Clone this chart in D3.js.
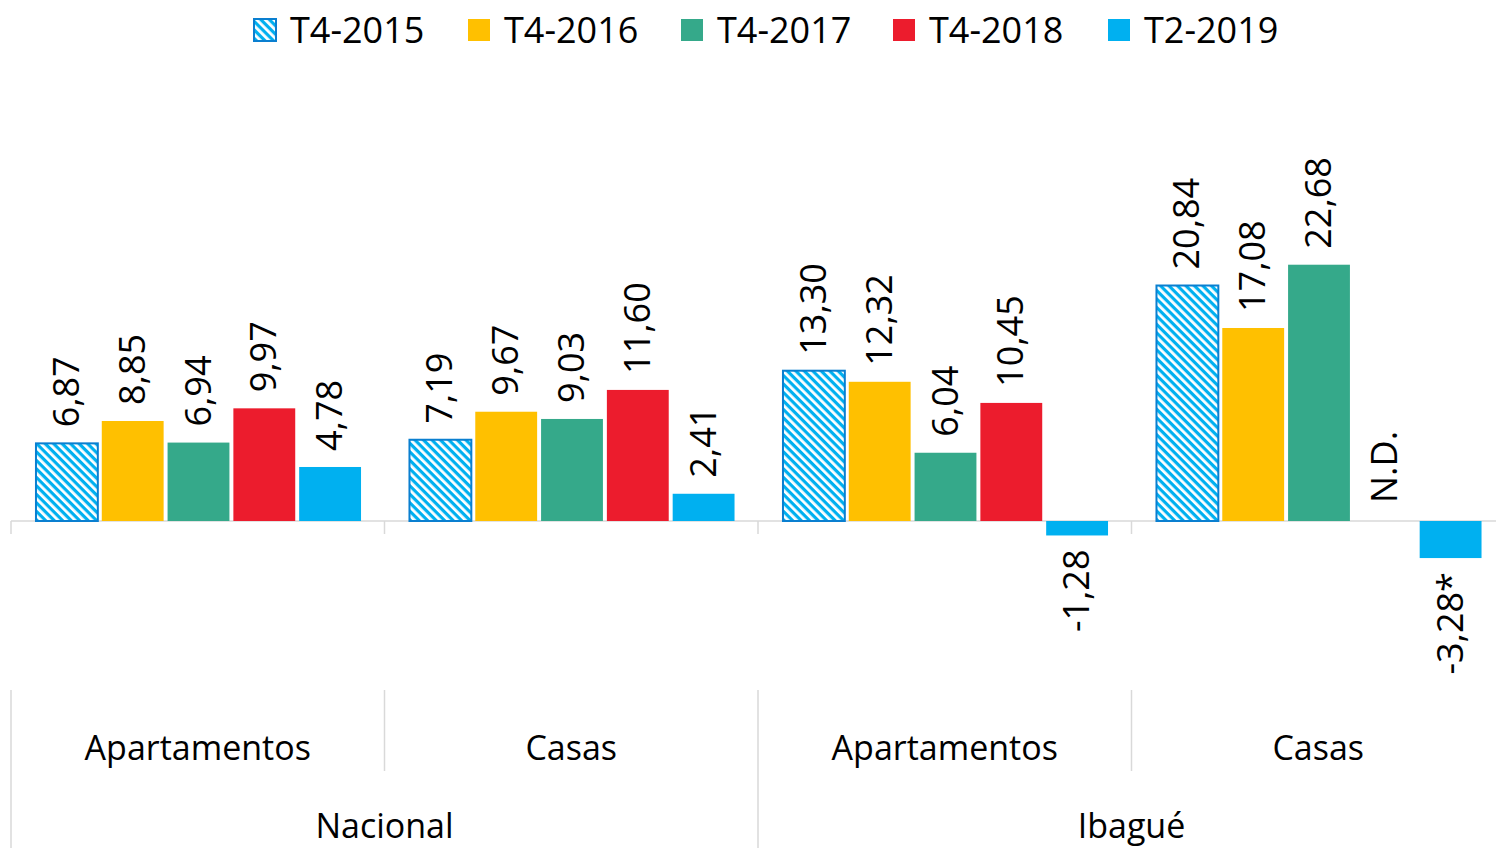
<!DOCTYPE html>
<html><head><meta charset="utf-8">
<script src="https://cdn.jsdelivr.net/npm/d3@7"></script>
<style>
html,body{margin:0;padding:0;background:#fff;}
svg{display:block;font-family:"Open Sans",sans-serif;}
</style></head>
<body>
<svg id="chart" width="1496" height="848"></svg>
<script>
const groups = ["Nacional","Ibagué"];
const subcats = ["Apartamentos","Casas"];
const series = ["T4-2015","T4-2016","T4-2017","T4-2018","T2-2019"];
const colors = ["url(#hatch)","#ffc000","#35a98a","#ec1c2d","#00b0f0"];
const valsNacApto = [6.87, 8.85, 6.94, 9.97, 4.78];
const valsNacCasa = [7.19, 9.67, 9.03, 11.60, 2.41];
const valsIbaApto = [13.30, 12.32, 6.04, 10.45, -1.28];
const valsIbaCasa = [20.84, 17.08, 22.68, null, -3.28];
const labelsIbaCasa = ["20,84","17,08","22,68","N.D.","-3,28*"];

const fmt = v => v.toFixed(2).replace(".", ",");
const cells = [
  {g:groups[0], s:subcats[0], vals:valsNacApto, labels:valsNacApto.map(fmt)},
  {g:groups[0], s:subcats[1], vals:valsNacCasa, labels:valsNacCasa.map(fmt)},
  {g:groups[1], s:subcats[0], vals:valsIbaApto, labels:valsIbaApto.map(fmt)},
  {g:groups[1], s:subcats[1], vals:valsIbaCasa, labels:labelsIbaCasa}
];
cells.forEach((c,i)=>c.key=c.g+"|"+c.s);

const svg = d3.select("#chart");
const defs = svg.append("defs");
const pat = defs.append("pattern").attr("id","hatch").attr("patternUnits","userSpaceOnUse")
  .attr("width",6).attr("height",6).attr("patternTransform","rotate(45)");
pat.append("rect").attr("width",6).attr("height",6).attr("fill","#ffffff");
pat.append("rect").attr("width",6).attr("height",3.2).attr("fill","#00b0f0");

const x0 = d3.scaleBand().domain(cells.map(c=>c.key)).range([11,1505]);
const x1 = d3.scaleBand().domain(series).range([23,352]).paddingInner(0.06).paddingOuter(0.03);
const y = d3.scaleLinear().domain([-5,25]).range([521+5*11.3, 521-25*11.3]);

// zero line
svg.append("line").attr("x1",11).attr("x2",1505).attr("y1",y(0)).attr("y2",y(0))
  .attr("stroke","#d9d9d9").attr("stroke-width",1.5);

// tick marks at zero line
x0.domain().forEach(k=>{
  svg.append("line").attr("x1",x0(k)).attr("x2",x0(k)).attr("y1",y(0)).attr("y2",y(0)+13)
    .attr("stroke","#d9d9d9").attr("stroke-width",1.5);
});

// bars
cells.forEach(c=>{
  const g = svg.append("g").attr("transform",`translate(${x0(c.key)},0)`);
  series.forEach((s,i)=>{
    const v = c.vals[i];
    if(v===null) return;
    const r = g.append("rect")
      .attr("x",x1(s)).attr("width",x1.bandwidth())
      .attr("y",y(Math.max(0,v))).attr("height",Math.abs(y(v)-y(0)))
      .attr("fill",colors[i]);
    if(i===0) r.attr("stroke","#0a7fd0").attr("stroke-width",2);
  });
  series.forEach((s,i)=>{
    const v = c.vals[i];
    const cx = x1(s)+x1.bandwidth()/2;
    let yy, anchor;
    if(v===null){ yy = y(0)-18; anchor="start"; }
    else if(v>=0){ yy = y(v)-16; anchor="start"; }
    else { yy = y(v)+14; anchor="end"; }
    g.append("text")
      .attr("transform",`translate(${cx+12},${yy}) rotate(-90)`)
      .attr("text-anchor",anchor)
      .attr("font-size",36).attr("fill","#000")
      .text(c.labels[i]);
  });
});

// category axis
const sepTop = 690;
x0.domain().forEach((k,i)=>{
  const xx = x0(k);
  const full = (i%2===0);
  svg.append("line").attr("x1",xx).attr("x2",xx).attr("y1",sepTop).attr("y2",full?848:771)
    .attr("stroke","#d9d9d9").attr("stroke-width",1.5);
});
cells.forEach(c=>{
  svg.append("text").attr("x",x0(c.key)+x0.bandwidth()/2).attr("y",760)
    .attr("text-anchor","middle").attr("font-size",34).attr("fill","#000").text(c.s);
});
groups.forEach((g,i)=>{
  const ks = cells.filter(c=>c.g===g).map(c=>c.key);
  const cx = (x0(ks[0]) + x0(ks[ks.length-1]) + x0.bandwidth())/2;
  svg.append("text").attr("x",cx).attr("y",838)
    .attr("text-anchor","middle").attr("font-size",34).attr("fill","#000").text(g);
});

// legend
const legX = [254,468,681,893,1108];
series.forEach((s,i)=>{
  const lg = svg.append("g").attr("transform",`translate(${legX[i]},19)`);
  const r = lg.append("rect").attr("width",22).attr("height",22).attr("fill",colors[i]);
  if(i===0) r.attr("stroke","#0a7fd0").attr("stroke-width",2);
  lg.append("text").attr("x",36).attr("y",24).attr("font-size",36).attr("fill","#000").text(s);
});
</script>
</body></html>
